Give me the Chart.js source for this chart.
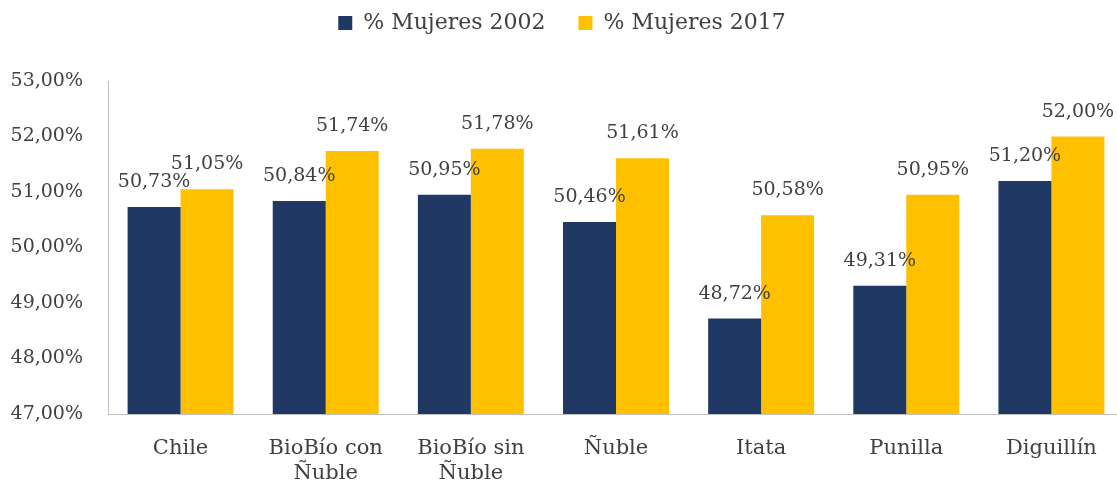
<!DOCTYPE html>
<html>
<head>
<meta charset="utf-8">
<script src="https://cdn.jsdelivr.net/npm/chart.js@4"></script>
<style>
  html, body { margin: 0; padding: 0; background: #fff; overflow: hidden; }
  #wrap { width: 1124px; height: 482px; }
</style>
</head>
<body>
<div id="wrap"><canvas id="grafico"></canvas></div>
<script>
const categorias = ['Chile', ['BioBío con', 'Ñuble'], ['BioBío sin', 'Ñuble'], 'Ñuble', 'Itata', 'Punilla', 'Diguillín'];
const mujeres2002 = [50.73, 50.84, 50.95, 50.46, 48.72, 49.31, 51.20];
const mujeres2017 = [51.05, 51.74, 51.78, 51.61, 50.58, 50.95, 52.00];
const ticksY = [47, 48, 49, 50, 51, 52, 53];

const FUENTE = 'DejaVu Serif, serif';
const fmt = v => v.toFixed(2).replace('.', ',') + '%';

// etiquetas sobre cada barra
const etiquetas = {
    id: 'etiquetas',
    afterDatasetsDraw(chart) {
        const ctx = chart.ctx;
        ctx.save();
        ctx.font = '19px ' + FUENTE;
        ctx.fillStyle = '#404040';
        ctx.textAlign = 'center';
        ctx.textBaseline = 'alphabetic';
        chart.data.datasets.forEach((ds, i) => {
            chart.getDatasetMeta(i).data.forEach((bar, j) => {
                ctx.fillText(fmt(ds.data[j]), bar.x, bar.y - 20);
            });
        });
        ctx.restore();
    }
};

const altoLeyenda = {
    id: 'altoLeyenda',
    beforeInit(chart) {
        const fitOrig = chart.legend.fit;
        chart.legend.fit = function () {
            fitOrig.bind(chart.legend)();
            this.height = 81;
        };
    }
};

new Chart(document.getElementById('grafico'), {
    type: 'bar',
    data: {
        labels: categorias,
        datasets: [
            {
                label: '% Mujeres 2002',
                data: mujeres2002,
                backgroundColor: '#1F3864',
                categoryPercentage: 0.73,
                barPercentage: 1.0
            },
            {
                label: '% Mujeres 2017',
                data: mujeres2017,
                backgroundColor: '#FFC000',
                categoryPercentage: 0.73,
                barPercentage: 1.0
            }
        ]
    },
    options: {
        responsive: true,
        maintainAspectRatio: false,
        animation: false,
        layout: { padding: 0 },
        plugins: {
            legend: {
                position: 'top',
                labels: {
                    color: '#404040',
                    font: { family: FUENTE, size: 22 },
                    boxWidth: 14,
                    boxHeight: 14,
                    padding: 12,
                    generateLabels: chart => {
                        const items = Chart.defaults.plugins.legend.labels.generateLabels(chart);
                        items[0].text += '   ';
                        return items;
                    }
                }
            },
            tooltip: { enabled: false }
        },
        scales: {
            x: {
                grid: { display: false, drawTicks: false },
                border: { display: true, color: '#BFBFBF' },
                ticks: {
                    color: '#404040',
                    font: { family: FUENTE, size: 21 },
                    padding: 22,
                    maxRotation: 0,
                    autoSkip: false
                },
                afterFit: s => { s.height = 68; }
            },
            y: {
                min: ticksY[0],
                max: ticksY[ticksY.length - 1],
                grid: { display: false, drawTicks: false },
                border: { display: true, color: '#BFBFBF' },
                ticks: {
                    stepSize: 1,
                    color: '#404040',
                    font: { family: FUENTE, size: 19 },
                    padding: 25,
                    callback: v => fmt(v)
                },
                afterFit: s => { s.width = 108; }
            }
        }
    },
    plugins: [etiquetas, altoLeyenda]
});
</script>
</body>
</html>
